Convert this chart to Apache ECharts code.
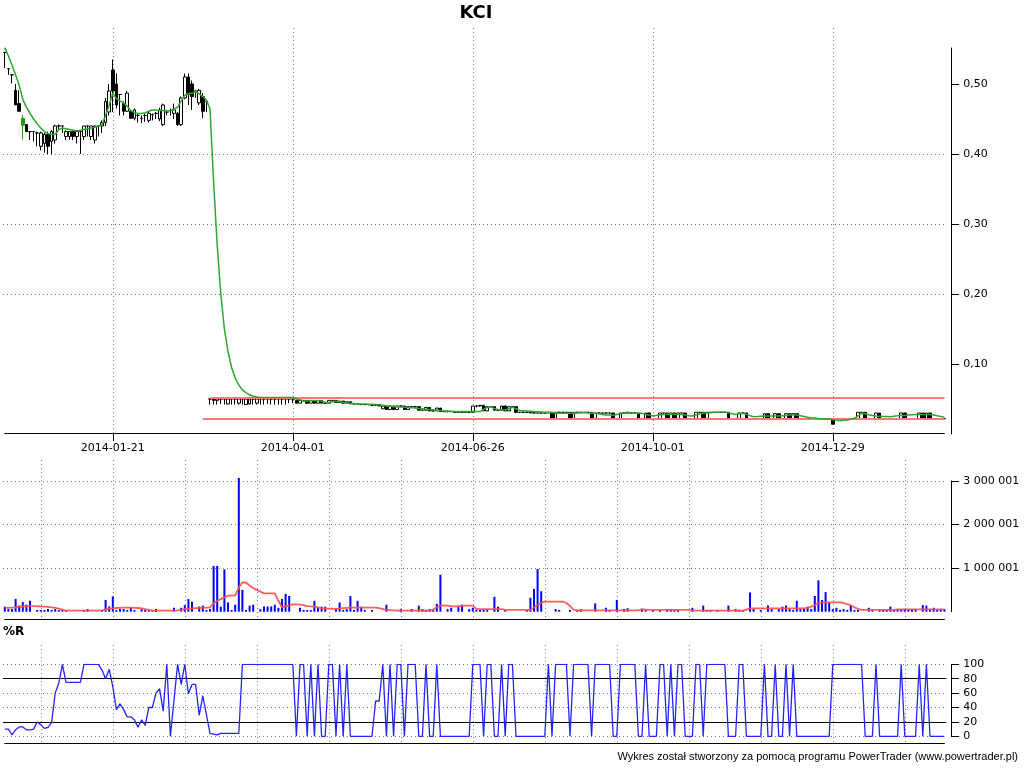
<!DOCTYPE html>
<html><head><meta charset="utf-8">
<script src="https://cdn.jsdelivr.net/npm/echarts@6/dist/echarts.min.js"></script>
<style>html,body{margin:0;padding:0;background:#fff}#c{width:1024px;height:768px}</style>
</head><body><div id="c"></div>
<script>
// ---- tick labels (x) ----
const tickLabels = ['2014-01-21','2014-04-01','2014-06-26','2014-10-01','2014-12-29'];
const tickBars = [30, 80, 130, 180, 230];
const priceTicks = [0.1, 0.2, 0.3, 0.4, 0.5];
const volumeTicks = [1000001, 2000001, 3000001];
const pctRLevels = [20, 80];
// support / resistance lines drawn on the price chart: [first bar, price]
const levelLines = [[57, 0.0519], [55, 0.0214]];
const greenBars = [5];

// ---- price candles: [open, close, low, high] ----
const ohlc = [
[.545,.545,.523,.545],[.522,.522,.513,.522],[.513,.513,.501,.513],[.491,.470,.470,.500],[.472,.461,.461,.491],
[.441,.451,.421,.456],[.442,.432,.432,.442],[.432,.432,.420,.432],[.432,.432,.418,.432],[.430,.430,.411,.432],
[.411,.430,.405,.432],[.415,.428,.402,.430],[.428,.411,.400,.432],[.418,.432,.400,.434],[.420,.440,.415,.442],
[.440,.440,.435,.442],[.440,.440,.430,.440],[.425,.432,.420,.434],[.425,.432,.420,.432],[.432,.425,.420,.432],
[.425,.432,.415,.434],[.432,.432,.400,.432],[.425,.440,.420,.440],[.440,.440,.425,.440],[.425,.440,.420,.440],
[.420,.440,.415,.440],[.440,.440,.425,.440],[.440,.445,.430,.448],[.445,.475,.440,.480],[.460,.490,.455,.500],
[.520,.490,.460,.535],[.500,.470,.465,.515],[.485,.485,.455,.485],[.472,.461,.455,.475],[.461,.487,.460,.490],
[.461,.451,.450,.463],[.451,.463,.448,.465],[.455,.455,.445,.457],[.451,.451,.444,.455],[.455,.455,.446,.458],
[.448,.458,.445,.460],[.456,.456,.448,.458],[.458,.458,.450,.460],[.450,.463,.447,.466],[.442,.470,.440,.472],
[.460,.460,.455,.463],[.462,.462,.455,.465],[.458,.463,.450,.472],[.458,.442,.440,.460],[.442,.480,.440,.482],
[.480,.510,.478,.515],[.510,.485,.470,.515],[.500,.482,.463,.505],[.490,.490,.480,.490],[.473,.491,.470,.493],
[.482,.461,.451,.487],[.475,.475,.460,.475],[.050,.050,.042,.050],[.050,.048,.042,.050],[.048,.050,.042,.050],
[.050,.050,.043,.050],[.050,.050,.042,.050],[.043,.050,.042,.050],[.050,.050,.042,.050],[.050,.050,.042,.050],
[.044,.050,.042,.050],[.050,.050,.042,.050],[.042,.050,.042,.050],[.043,.050,.042,.050],[.050,.050,.042,.050],
[.044,.050,.042,.050],[.050,.050,.042,.050],[.050,.050,.042,.050],[.050,.050,.043,.050],[.050,.050,.042,.050],
[.050,.050,.042,.050],[.050,.050,.042,.050],[.050,.050,.042,.050],[.050,.050,.042,.050],[.050,.050,.044,.050],
[.050,.050,.044,.050],[.048,.044,.044,.048],[.044,.048,.044,.048],[.048,.048,.046,.048],[.048,.044,.044,.048],
[.044,.048,.044,.048],[.048,.044,.044,.048],[.044,.048,.044,.048],[.048,.044,.044,.048],[.044,.044,.044,.044],
[.044,.048,.044,.048],[.048,.048,.047,.048],[.048,.045,.045,.048],[.045,.047,.045,.047],[.047,.044,.044,.047],
[.044,.046,.044,.046],[.046,.043,.043,.046],[.043,.043,.043,.043],[.043,.043,.042,.043],[.042,.042,.042,.042],
[.042,.042,.042,.042],[.042,.042,.041,.042],[.041,.041,.041,.041],[.041,.042,.040,.043],[.042,.040,.040,.042],
[.036,.040,.036,.040],[.040,.035,.035,.040],[.035,.040,.035,.040],[.040,.035,.035,.040],[.035,.040,.035,.040],
[.040,.040,.039,.040],[.040,.035,.035,.040],[.035,.039,.035,.039],[.039,.039,.039,.039],[.039,.039,.038,.039],
[.039,.034,.034,.039],[.034,.034,.034,.034],[.034,.038,.034,.038],[.038,.033,.033,.038],[.033,.033,.033,.033],
[.033,.037,.033,.037],[.037,.032,.032,.037],[.032,.032,.032,.032],[.032,.032,.031,.032],[.032,.032,.032,.032],
[.032,.031,.031,.032],[.031,.031,.031,.031],[.031,.031,.031,.032],[.031,.031,.031,.031],[.031,.031,.031,.031],
[.031,.040,.031,.040],[.040,.040,.038,.041],[.040,.041,.039,.041],[.041,.033,.033,.041],[.033,.039,.033,.039],
[.039,.039,.039,.040],[.039,.034,.034,.039],[.034,.034,.034,.034],[.034,.040,.034,.040],[.040,.033,.033,.040],
[.033,.039,.033,.039],[.039,.039,.039,.039],[.039,.031,.031,.039],[.031,.031,.031,.031],[.031,.031,.031,.031],
[.031,.031,.031,.031],[.031,.030,.030,.031],[.030,.030,.030,.031],[.030,.030,.030,.030],[.030,.030,.030,.030],
[.030,.030,.030,.030],[.030,.031,.030,.031],[.031,.0214,.0214,.031],[.0214,.031,.0214,.031],[.031,.031,.031,.031],
[.031,.031,.030,.031],[.031,.031,.031,.031],[.031,.022,.022,.031],[.022,.031,.022,.031],[.031,.031,.030,.031],
[.031,.031,.031,.031],[.031,.031,.030,.031],[.031,.031,.031,.031],[.031,.022,.022,.031],[.022,.030,.022,.030],
[.030,.030,.030,.030],[.030,.030,.029,.030],[.030,.030,.030,.030],[.030,.030,.030,.030],[.030,.022,.022,.030],
[.022,.022,.022,.022],[.022,.030,.022,.030],[.030,.030,.030,.030],[.030,.030,.030,.031],[.030,.030,.030,.030],
[.030,.030,.030,.030],[.030,.022,.022,.030],[.022,.022,.022,.022],[.022,.030,.022,.030],[.030,.022,.022,.030],
[.022,.022,.022,.022],[.022,.022,.022,.022],[.022,.030,.022,.030],[.030,.030,.030,.030],[.030,.022,.022,.030],
[.022,.030,.022,.030],[.030,.022,.022,.030],[.022,.030,.022,.030],[.030,.030,.030,.030],[.030,.022,.022,.030],
[.022,.022,.022,.022],[.022,.022,.022,.022],[.022,.031,.022,.031],[.031,.031,.031,.031],[.031,.022,.022,.031],
[.022,.031,.022,.031],[.031,.031,.031,.031],[.031,.031,.030,.031],[.031,.031,.031,.031],[.031,.031,.031,.031],
[.031,.031,.031,.031],[.031,.022,.022,.031],[.022,.022,.022,.022],[.022,.022,.022,.022],[.022,.030,.022,.030],
[.030,.030,.030,.030],[.030,.022,.022,.030],[.022,.022,.022,.022],[.022,.022,.022,.022],[.022,.022,.022,.022],
[.022,.022,.022,.022],[.022,.029,.022,.029],[.029,.022,.022,.029],[.022,.022,.022,.022],[.022,.029,.022,.029],
[.029,.022,.022,.029],[.022,.022,.022,.022],[.022,.029,.022,.029],[.029,.022,.022,.029],[.022,.029,.022,.029],
[.029,.0214,.0214,.029],[.0214,.0214,.0214,.0214],[.0214,.0214,.0214,.0214],[.0214,.0214,.0214,.0214],[.0214,.0214,.0214,.0214],
[.0214,.0214,.0214,.0214],[.0214,.0214,.0214,.0214],[.0214,.0214,.0214,.0214],[.0214,.0214,.0214,.0214],[.0214,.0214,.0214,.0214],
[.0214,.014,.0138,.0214],[.0214,.022,.0214,.022],[.022,.022,.022,.022],[.022,.022,.022,.022],[.022,.022,.022,.022],
[.022,.022,.022,.022],[.022,.022,.022,.022],[.022,.031,.022,.031],[.031,.031,.031,.031],[.031,.022,.022,.031],
[.022,.022,.022,.022],[.022,.022,.022,.022],[.022,.030,.022,.030],[.030,.022,.022,.030],[.022,.022,.022,.022],
[.022,.022,.022,.022],[.022,.022,.022,.022],[.022,.022,.022,.022],[.022,.022,.022,.022],[.022,.030,.022,.030],
[.030,.022,.022,.030],[.022,.022,.022,.022],[.022,.022,.022,.022],[.022,.022,.022,.022],[.022,.030,.022,.030],
[.030,.022,.022,.030],[.022,.030,.022,.030],[.030,.022,.022,.030],[.022,.022,.022,.022],[.022,.022,.022,.022],
[.022,.022,.022,.022],[.022,.022,.022,.022]
];

// ---- price moving average ----
const priceMA = [
.552,.540,.527,.513,.498,.478,.467,.458,.450,.443,
.437,.432,.429,.428,.428,.435,.437,.436,.435,.434,
.433,.434,.435,.436,.437,.438,.440,.442,.455,.470,
.487,.479,.476,.473,.468,.462,.459,.458,.458,.459,
.461,.463,.463,.462,.462,.461,.462,.464,.467,.476,
.484,.486,.487,.489,.486,.482,.477,.465,.360,.270,
.200,.150,.118,.095,.080,.070,.063,.059,.056,.054,
.053,.052,.052,.052,.052,.052,.052,.052,.052,.052,
.052,.050,.049,.047,.047,.0475,.0476,.0476,.047,.0455,
.0448,.046,.0467,.0465,.045,.0443,.044,.0435,.043,.0429,
.0428,.0426,.0424,.0422,.0414,.041,.040,.0395,.039,.0388,
.0385,.0383,.038,.0375,.037,.0365,.036,.0355,.035,.0345,
.034,.0335,.033,.0329,.0325,.032,.032,.032,.032,.032,
.032,.032,.032,.035,.038,.039,.036,.035,.0345,.0343,
.036,.038,.036,.0335,.0333,.033,.0325,.032,.0318,.0315,
.031,.031,.0305,.030,.0295,.0295,.0295,.0295,.0295,.030,
.0302,.0305,.030,.0298,.0295,.029,.028,.0272,.027,.0267,
.028,.029,.0305,.031,.030,.0297,.0295,.0295,.028,.027,
.0257,.0265,.0275,.028,.0281,.0281,.0281,.0281,.028,.027,
.0262,.0258,.027,.0285,.0295,.030,.0305,.031,.0312,.0314,
.0314,.0305,.029,.028,.029,.0295,.028,.0262,.0248,.025,
.0255,.0257,.0257,.0257,.0257,.0257,.026,.0265,.027,.0271,
.027,.026,.025,.024,.0233,.0228,.0222,.0218,.0215,.0214,
.0205,.0195,.019,.0195,.020,.021,.0224,.026,.0295,.029,
.0275,.0265,.0257,.0255,.025,.025,.0248,.0255,.026,.0267,
.0265,.027,.0275,.028,.028,.028,.028,.028,.027,.026,
.025,.0238
];

// ---- volume ----
const volume = [
115e3,60e3,60e3,295e3,140e3,220e3,160e3,250e3,0,40e3,
40e3,40e3,60e3,40e3,60e3,40e3,40e3,20e3,0,0,
0,0,40e3,60e3,0,0,0,40e3,270e3,120e3,
350e3,40e3,60e3,60e3,40e3,90e3,40e3,0,60e3,40e3,
40e3,20e3,60e3,0,0,0,0,90e3,0,90e3,
150e3,290e3,230e3,0,120e3,140e3,40e3,60e3,1050e3,1050e3,
115e3,970e3,210e3,40e3,160e3,3070e3,500e3,40e3,140e3,160e3,
0,60e3,120e3,120e3,120e3,160e3,90e3,290e3,410e3,360e3,
0,0,90e3,40e3,40e3,40e3,250e3,90e3,115e3,115e3,
0,0,60e3,210e3,40e3,60e3,360e3,40e3,250e3,115e3,
40e3,0,40e3,0,0,0,160e3,0,0,0,
60e3,0,0,60e3,0,140e3,60e3,40e3,60e3,40e3,
180e3,850e3,0,60e3,90e3,0,115e3,160e3,0,60e3,
90e3,40e3,40e3,40e3,40e3,0,340e3,115e3,0,40e3,
0,0,0,0,0,40e3,320e3,520e3,980e3,470e3,
0,0,0,60e3,40e3,0,0,40e3,0,40e3,
60e3,0,0,0,190e3,0,0,90e3,40e3,0,
270e3,0,60e3,80e3,0,0,0,60e3,40e3,0,
40e3,0,40e3,0,40e3,60e3,40e3,40e3,0,0,
0,90e3,0,0,140e3,40e3,40e3,0,40e3,0,
0,140e3,0,60e3,40e3,40e3,0,440e3,60e3,0,
40e3,0,140e3,60e3,0,60e3,115e3,140e3,60e3,40e3,
250e3,60e3,60e3,115e3,60e3,360e3,720e3,270e3,450e3,220e3,
60e3,90e3,40e3,60e3,40e3,140e3,40e3,40e3,0,0,
90e3,60e3,0,40e3,40e3,40e3,115e3,40e3,60e3,60e3,
60e3,60e3,60e3,60e3,0,150e3,140e3,60e3,90e3,60e3,
60e3,60e3
];

// ---- volume moving average ----
const volumeMA = [
90e3,90e3,95e3,100e3,115e3,120e3,125e3,130e3,130e3,120e3,
120e3,115e3,110e3,100e3,90e3,70e3,50e3,25e3,23e3,23e3,
23e3,23e3,23e3,23e3,23e3,23e3,23e3,30e3,50e3,70e3,
77e3,85e3,90e3,92e3,92e3,92e3,90e3,85e3,77e3,60e3,
40e3,25e3,23e3,23e3,23e3,23e3,23e3,23e3,30e3,40e3,
60e3,70e3,75e3,80e3,85e3,90e3,92e3,100e3,190e3,250e3,
290e3,330e3,370e3,370e3,370e3,550e3,675e3,670e3,600e3,540e3,
500e3,460e3,420e3,420e3,420e3,420e3,250e3,100e3,120e3,140e3,
170e3,170e3,160e3,150e3,130e3,120e3,115e3,100e3,75e3,72e3,
70e3,68e3,65e3,70e3,80e3,90e3,92e3,92e3,92e3,92e3,
92e3,92e3,92e3,92e3,80e3,60e3,40e3,35e3,30e3,23e3,
23e3,23e3,23e3,23e3,23e3,23e3,23e3,23e3,23e3,50e3,
100e3,138e3,138e3,138e3,125e3,120e3,125e3,138e3,138e3,138e3,
138e3,60e3,60e3,60e3,60e3,60e3,60e3,60e3,60e3,40e3,
40e3,40e3,40e3,40e3,40e3,40e3,40e3,100e3,150e3,200e3,
230e3,230e3,230e3,230e3,230e3,230e3,200e3,130e3,50e3,30e3,
30e3,30e3,30e3,30e3,30e3,30e3,30e3,30e3,30e3,30e3,
30e3,30e3,30e3,30e3,30e3,30e3,30e3,60e3,50e3,40e3,
40e3,40e3,40e3,40e3,40e3,40e3,40e3,40e3,40e3,40e3,
40e3,25e3,25e3,25e3,25e3,25e3,25e3,25e3,25e3,25e3,
25e3,25e3,25e3,25e3,25e3,25e3,50e3,77e3,77e3,77e3,
77e3,77e3,77e3,77e3,77e3,77e3,77e3,77e3,77e3,77e3,
77e3,77e3,77e3,90e3,115e3,150e3,190e3,215e3,215e3,215e3,
215e3,215e3,215e3,200e3,170e3,150e3,100e3,65e3,40e3,40e3,
40e3,40e3,40e3,40e3,40e3,40e3,40e3,40e3,54e3,54e3,
54e3,54e3,54e3,54e3,54e3,54e3,54e3,54e3,54e3,54e3,
54e3,54e3
];

// ---- Williams %R ----
const pctR = [
10,10,2,9,13,13,9,9,10,20,
16,11,12.5,19,60,74,100,75,75,75,
75,75,100,100,100,100,100,92,80,93,
69,37,45,37,27,27,23,12.5,23,15,
40,40,60,66,35,100,0,50,100,72,
100,59,72,72,29,56,30,4,3,2,
4,4,4,4,4,4,100,100,100,100,
100,100,100,100,100,100,100,100,100,100,
100,0,100,100,0,100,0,100,0,0,
100,100,0,100,0,100,0,0,0,0,
0,0,0,49,49,100,0,100,0,100,
100,0,100,100,100,0,0,100,0,0,
100,0,0,0,0,0,0,0,0,0,
100,100,100,0,100,100,0,0,100,0,
100,100,0,0,0,0,0,0,0,0,
0,100,0,100,100,100,100,0,100,100,
100,100,100,0,100,100,100,100,100,0,
0,100,100,100,100,100,0,0,100,0,
0,0,100,100,0,100,0,100,100,0,
0,0,100,100,0,100,100,100,100,100,
100,0,0,0,100,100,0,0,0,0,
0,100,0,0,100,0,0,100,0,100,
0,0,0,0,0,0,0,0,0,0,
100,100,100,100,100,100,100,100,100,0,
0,0,100,0,0,0,0,0,0,100,
0,0,0,0,100,0,100,0,0,0,
0,0
];

// ---------------- chart ----------------
const N = ohlc.length;
const sessions = ohlc.map((_, i) => String(i));
const labelOf = {};
tickBars.forEach((b, k) => { labelOf[String(b)] = tickLabels[k]; });
const isDateTick = (idx) => tickBars.indexOf(idx) >= 0;
const isLowerTick = (idx) => idx % 20 === 10;

const FONT = 'DejaVu Sans';
const dotted = { show: true, lineStyle: { type: [1, 3], color: '#7a7a7a', width: 1 } };
const black = '#000';

const BAR = 3.6, LEFT = 3;
const dataGrid = (top, height) => ({ left: LEFT, width: BAR * N, top, height, outerBoundsMode: 'none', containLabel: false });
const backGrid = (top, height) => ({ left: LEFT + BAR / 2, width: BAR * (N - 1), top, height, outerBoundsMode: 'none', containLabel: false });

const backX = (gridIndex, withLabels, intervalFn) => ({
  type: 'category', gridIndex, data: sessions, boundaryGap: false,
  axisLine: { show: true, lineStyle: { color: black, width: 1 } },
  axisTick: { show: withLabels, interval: intervalFn, length: 8, lineStyle: { color: black } },
  axisLabel: { show: withLabels, interval: intervalFn, formatter: v => labelOf[v] || '',
               color: black, fontFamily: FONT, fontSize: 11, margin: 10 },
  splitLine: Object.assign({ interval: intervalFn }, dotted)
});
const dataX = (gridIndex) => ({ type: 'category', gridIndex, data: sessions, boundaryGap: true, show: false });
const backY = (gridIndex) => ({ type: 'value', gridIndex, show: false, min: 0, max: 1 });

const priceFmt = v => v.toFixed(2).replace('.', ',');
const volFmt = v => String(Math.round(v)).replace(/\B(?=(\d{3})+(?!\d))/g, ' ');

const candleData = ohlc.map((d, i) => greenBars.indexOf(i) >= 0
  ? { value: d, itemStyle: { color: '#1f9a1f', color0: '#1f9a1f', borderColor: '#1f9a1f', borderColor0: '#1f9a1f' } }
  : d);

const option = {
  animation: false,
  backgroundColor: '#ffffff',
  textStyle: { fontFamily: FONT },
  grid: [
    backGrid(28, 405),
    dataGrid(48, 386),
    backGrid(460, 159),
    dataGrid(481, 130.7),
    backGrid(645, 98.3),
    dataGrid(664.3, 72)
  ],
  xAxis: [
    backX(0, true, (i) => isDateTick(i)),
    dataX(1),
    backX(2, false, (i) => isLowerTick(i)),
    dataX(3),
    backX(4, false, (i) => isLowerTick(i)),
    dataX(5)
  ],
  yAxis: [
    backY(0),
    { type: 'value', gridIndex: 1, position: 'right', offset: 5, min: 0, max: 0.5514, interval: 0.1,
      axisLine: { show: true, lineStyle: { color: black } },
      axisTick: { show: true, length: 8, lineStyle: { color: black }, customValues: priceTicks },
      axisLabel: { color: black, fontFamily: FONT, fontSize: 11, margin: 12, formatter: priceFmt, customValues: priceTicks },
      splitLine: Object.assign({ showMinLine: false, showMaxLine: false }, dotted) },
    backY(2),
    { type: 'value', gridIndex: 3, position: 'right', offset: 5, min: 1, max: 3000001, interval: 1000000,
      axisLine: { show: true, lineStyle: { color: black } },
      axisTick: { show: true, length: 8, lineStyle: { color: black }, customValues: volumeTicks },
      axisLabel: { color: black, fontFamily: FONT, fontSize: 11, margin: 12, formatter: volFmt, customValues: volumeTicks },
      splitLine: dotted },
    backY(4),
    { type: 'value', gridIndex: 5, position: 'right', offset: 5, min: 0, max: 100, interval: 20,
      axisLine: { show: true, lineStyle: { color: black } },
      axisTick: { show: true, length: 8, lineStyle: { color: black } },
      axisLabel: { color: black, fontFamily: FONT, fontSize: 11, margin: 12 },
      splitLine: dotted }
  ],
  series: [
    { type: 'candlestick', xAxisIndex: 1, yAxisIndex: 1, data: candleData, barWidth: 3,
      itemStyle: { color: '#ffffff', color0: '#000000', borderColor: '#000000', borderColor0: '#000000', borderWidth: 1 },
      markLine: { silent: true, symbol: ['none', 'none'], label: { show: false },
        lineStyle: { color: '#ff7878', width: 2, type: 'solid' },
        data: levelLines.map(l => [{ coord: [String(l[0]), l[1]] }, { coord: [String(N - 1), l[1]] }]) } },
    { type: 'line', xAxisIndex: 1, yAxisIndex: 1, data: priceMA, showSymbol: false, z: 5,
      lineStyle: { color: '#2aa82a', width: 1.5 } },
    { type: 'bar', xAxisIndex: 3, yAxisIndex: 3, data: volume, barWidth: 2, clip: false,
      itemStyle: { color: '#0000ff' } },
    { type: 'line', xAxisIndex: 3, yAxisIndex: 3, data: volumeMA, showSymbol: false, z: 5,
      lineStyle: { color: '#ff4d4d', width: 1.8, opacity: 0.9 } },
    { type: 'line', xAxisIndex: 5, yAxisIndex: 5, data: pctR, showSymbol: false, z: 5,
      lineStyle: { color: '#2424ff', width: 1.3 },
      markLine: { silent: true, symbol: ['none', 'none'], label: { show: false },
        lineStyle: { color: black, width: 1, type: 'solid' },
        data: pctRLevels.map(v => ({ yAxis: v })) } }
  ],
  graphic: [
    { type: 'text', x: 476, y: 13, style: { text: 'KCI', font: 'bold 18px "DejaVu Sans"', fill: black, align: 'center', verticalAlign: 'middle' } },
    { type: 'text', x: 3, y: 632, style: { text: '%R', font: 'bold 12px "DejaVu Sans"', fill: black, align: 'left', verticalAlign: 'middle' } },
    { type: 'text', x: 1018, y: 757, style: { text: 'Wykres został stworzony za pomocą programu PowerTrader (www.powertrader.pl)', font: '11px "Liberation Sans"', fill: black, align: 'right', verticalAlign: 'middle' } }
  ]
};

const chart = echarts.init(document.getElementById('c'), null, { renderer: 'canvas' });
chart.setOption(option);
</script>
</body></html>
